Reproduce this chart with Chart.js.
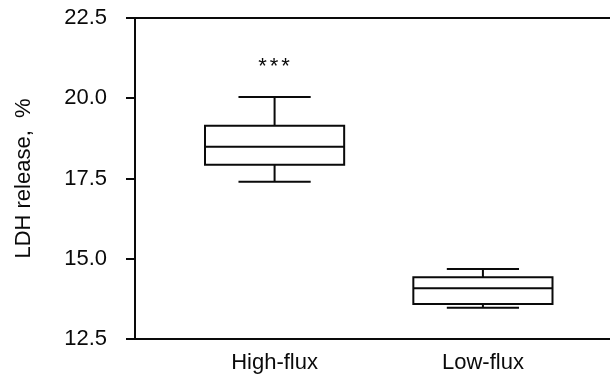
<!DOCTYPE html>
<html>
<head>
<meta charset="utf-8">
<script src="https://cdn.jsdelivr.net/npm/chart.js@4"></script>
<style>
  html, body { margin: 0; padding: 0; background: #fff; }
  canvas { display: block; }
</style>
</head>
<body>
<canvas id="ldhChart" width="610" height="376"></canvas>
<script>
// ========================================
// LDH release box plot - High-flux vs Low-flux
// ========================================

const categories = ['High-flux', 'Low-flux'];
const whiskerLow = [17.40, 13.47];
const quartile1 = [17.93, 13.59];
const medians = [18.49, 14.08];
const quartile3 = [19.14, 14.42];
const whiskerHigh = [20.04, 14.68];
const significance = ['***', ''];
const yTicks = [12.5, 15.0, 17.5, 20.0, 22.5];

const INK = '#0a0a0a';
const FONT = "'Liberation Sans', Arial, Helvetica, sans-serif";

// Draws the boxes, whiskers and stars from the arrays above using the chart scales
const boxPlotPlugin = {
    id: 'boxPlot',
    afterDatasetsDraw(chart, args, opts) {
        const { ctx, scales: { x, y } } = chart;
        const halfBox = (x.getPixelForValue(1 + opts.boxWidth / 2) - x.getPixelForValue(1));
        const halfCap = (x.getPixelForValue(1 + opts.capWidth / 2) - x.getPixelForValue(1));

        ctx.save();
        ctx.strokeStyle = INK;
        ctx.lineWidth = 2;
        ctx.lineCap = 'square';

        categories.forEach((cat, i) => {
            const cx = x.getPixelForValue(i + 1);
            const yLo = y.getPixelForValue(whiskerLow[i]);
            const yQ1 = y.getPixelForValue(quartile1[i]);
            const yMed = y.getPixelForValue(medians[i]);
            const yQ3 = y.getPixelForValue(quartile3[i]);
            const yHi = y.getPixelForValue(whiskerHigh[i]);

            ctx.beginPath();
            // box
            ctx.rect(cx - halfBox, yQ3, halfBox * 2, yQ1 - yQ3);
            // median
            ctx.moveTo(cx - halfBox, yMed);
            ctx.lineTo(cx + halfBox, yMed);
            // whiskers
            ctx.moveTo(cx, yQ3);
            ctx.lineTo(cx, yHi);
            ctx.moveTo(cx, yQ1);
            ctx.lineTo(cx, yLo);
            // caps
            ctx.moveTo(cx - halfCap, yHi);
            ctx.lineTo(cx + halfCap, yHi);
            ctx.moveTo(cx - halfCap, yLo);
            ctx.lineTo(cx + halfCap, yLo);
            ctx.stroke();

            if (significance[i]) {
                ctx.fillStyle = INK;
                ctx.font = '22px ' + FONT;
                ctx.letterSpacing = '3px';
                ctx.textAlign = 'center';
                ctx.textBaseline = 'middle';
                ctx.fillText(significance[i], cx + 1, yHi - 30);
            }
        });
        ctx.restore();
    }
};

const chart = new Chart(document.getElementById('ldhChart'), {
    type: 'scatter',
    data: { datasets: [] },
    plugins: [boxPlotPlugin],
    options: {
        responsive: false,
        animation: false,
        layout: { padding: { top: 18, right: 0, left: 0, bottom: 0 } },
        plugins: {
            legend: { display: false },
            tooltip: { enabled: false },
            boxPlot: { boxWidth: 0.668, capWidth: 0.337 }
        },
        scales: {
            x: {
                type: 'linear',
                position: 'bottom',
                min: 0.33,
                max: 2.61,
                afterBuildTicks: s => { s.ticks = categories.map((c, i) => ({ value: i + 1 })); },
                afterFit: s => { s.height = 37; },
                grid: { display: false, drawTicks: false },
                border: { display: true, color: INK, width: 2 },
                ticks: {
                    color: INK,
                    padding: 11,
                    font: { family: FONT, size: 22 },
                    callback: v => categories[v - 1] || ''
                }
            },
            xTop: {
                type: 'linear',
                position: 'top',
                min: 0.33,
                max: 2.61,
                afterFit: s => { s.height = 0; },
                grid: { display: false, drawTicks: false },
                border: { display: true, color: INK, width: 2 },
                ticks: { display: false }
            },
            y: {
                min: 12.5,
                max: 22.5,
                afterBuildTicks: s => { s.ticks = yTicks.map(v => ({ value: v })); },
                afterFit: s => {
                    s.width = 135;
                    s.paddingTop = 0;
                    s.paddingBottom = 0;
                },
                grid: {
                    drawOnChartArea: false,
                    drawTicks: true,
                    tickLength: 9,
                    color: INK,
                    lineWidth: 2
                },
                border: { display: true, color: INK, width: 2 },
                ticks: {
                    color: INK,
                    padding: 19,
                    font: { family: FONT, size: 22 },
                    callback: v => v.toFixed(1)
                },
                title: {
                    display: true,
                    text: 'LDH release,  %',
                    color: INK,
                    padding: { top: 11, bottom: 0 },
                    font: { family: FONT, size: 22 }
                }
            }
        }
    }
});
</script>
</body>
</html>
